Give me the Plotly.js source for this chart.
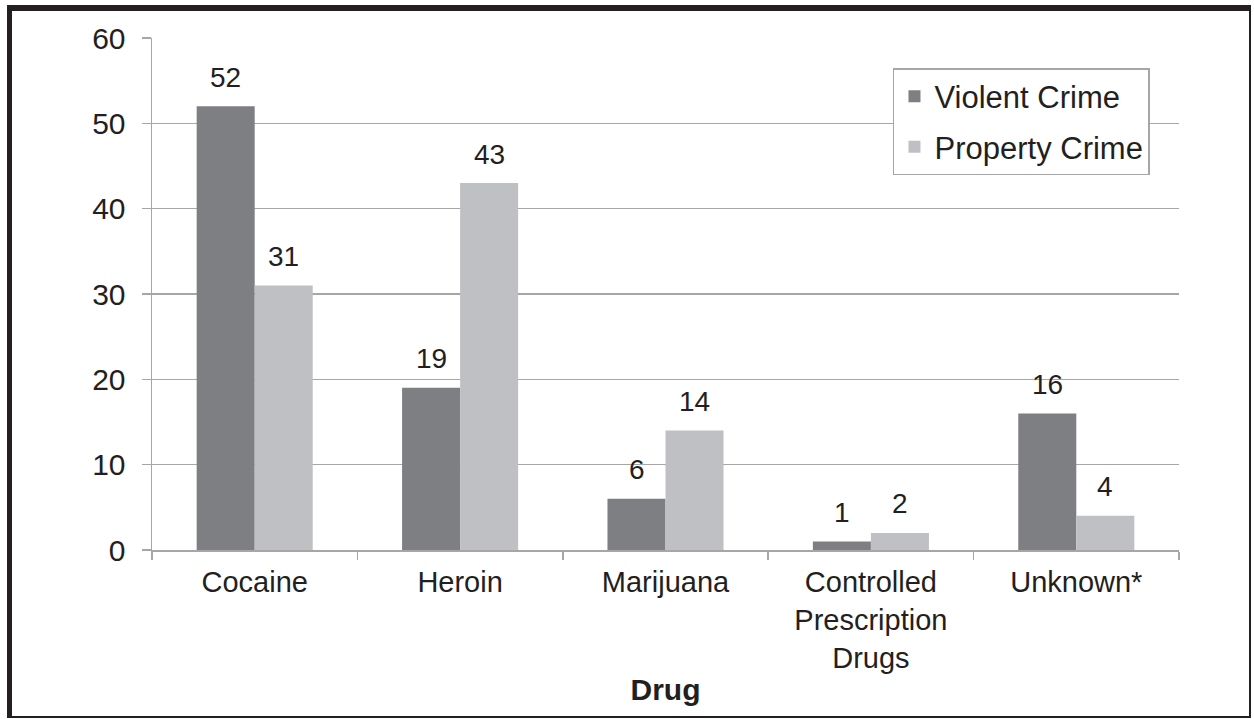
<!DOCTYPE html>
<html>
<head>
<meta charset="utf-8">
<script src="https://cdn.plot.ly/plotly-3.0.1.min.js"></script>
<style>
  html, body { margin: 0; padding: 0; background: #ffffff; }
  #wrap { position: relative; width: 1254px; height: 719px; overflow: hidden; }
  #chart { position: absolute; left: 0; top: 0; width: 1254px; height: 719px; }
  #frame { position: absolute; left: 7px; top: 5px; width: 1244px; height: 713px;
           box-sizing: border-box; border-style: solid; border-color: #231f20;
           border-width: 6px 2px 2px 5px; pointer-events: none; }
</style>
</head>
<body>
<div id="wrap">
  <div id="chart"></div>
  <div id="frame"></div>
</div>
<script>
const categories = ['Cocaine', 'Heroin', 'Marijuana', 'Controlled<br>Prescription<br>Drugs', 'Unknown*'];
const violentCrime = [52, 19, 6, 1, 16];
const propertyCrime = [31, 43, 14, 2, 4];
const seriesNames = ['Violent Crime', 'Property Crime'];
const xAxisTitle = 'Drug';
const yTicks = [0, 10, 20, 30, 40, 50, 60];

const textColor = '#231f20';
const gridColor = '#a6a6a6';
const fontFamily = '"Liberation Sans", Arial, Helvetica, sans-serif';

const traces = [
  { type: 'bar', name: seriesNames[0], x: categories, y: violentCrime,
    marker: { color: '#7e7f82' }, legendgroup: 'g1', hoverinfo: 'x+y' },
  { type: 'bar', name: seriesNames[1], x: categories, y: propertyCrime,
    marker: { color: '#bfc0c3' }, legendgroup: 'g2', hoverinfo: 'x+y' }
];

const annotations = [];
[violentCrime, propertyCrime].forEach((vals, si) => {
  vals.forEach((v, i) => {
    annotations.push({
      x: categories[i], y: v, xref: 'x', yref: 'y',
      text: String(v), showarrow: false,
      xanchor: 'center', yanchor: 'middle',
      xshift: si === 0 ? -29 : 29, yshift: 29,
      font: { size: 28, color: textColor, family: fontFamily }
    });
  });
});

const layout = {
  width: 1254, height: 719,
  margin: { l: 152, r: 75, t: 38, b: 169 },
  paper_bgcolor: '#ffffff', plot_bgcolor: '#ffffff',
  font: { family: fontFamily, color: textColor, size: 29 },
  barmode: 'group', bargap: 0.435, bargroupgap: 0,
  showlegend: true,
  legend: {
    x: 0.7215, y: 0.941, xanchor: 'left', yanchor: 'top',
    bgcolor: '#ffffff', bordercolor: gridColor, borderwidth: 1.5,
    font: { size: 31, color: textColor, family: fontFamily },
    traceorder: 'grouped', tracegroupgap: 7
  },
  xaxis: {
    type: 'category', automargin: false,
    showline: true, linecolor: gridColor, linewidth: 1.5,
    ticks: 'outside', tickson: 'boundaries', ticklen: 8, tickcolor: gridColor, tickwidth: 1.5,
    showgrid: false, zeroline: false,
    tickfont: { size: 29, color: textColor, family: fontFamily },
    ticklabelstandoff: 6,
    title: { text: '<b>' + xAxisTitle + '</b>', font: { size: 30, color: textColor, family: fontFamily }, standoff: 6 }
  },
  yaxis: {
    range: [0, 60], tickvals: yTicks, automargin: false,
    showline: true, linecolor: gridColor, linewidth: 1.5,
    ticks: 'outside', ticklen: 9, tickcolor: gridColor, tickwidth: 1.5,
    showgrid: true, gridcolor: gridColor, gridwidth: 1.5, zeroline: false,
    tickfont: { size: 30, color: textColor, family: fontFamily },
    ticklabelstandoff: 10
  },
  annotations: annotations
};

Plotly.newPlot('chart', traces, layout, { displayModeBar: false, staticPlot: true });
</script>
</body>
</html>
